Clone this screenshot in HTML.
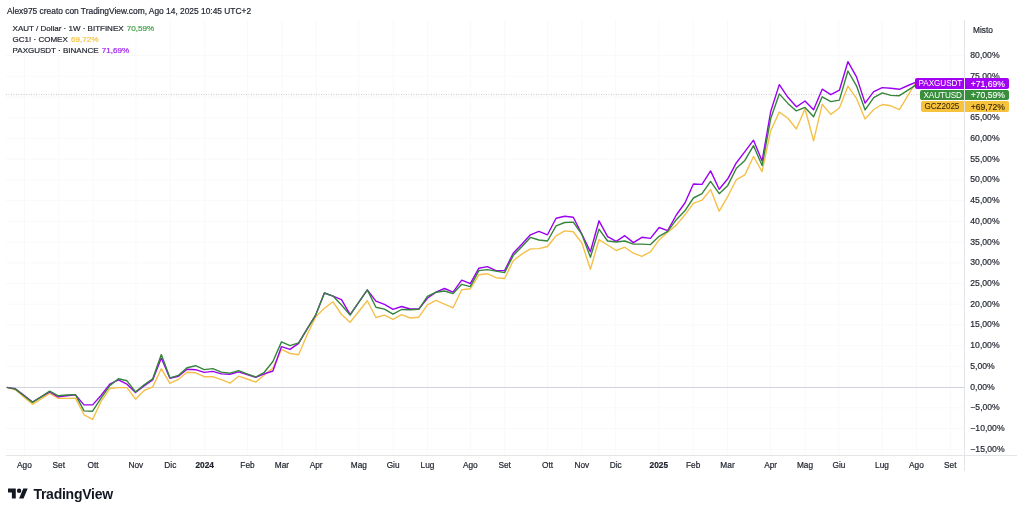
<!DOCTYPE html>
<html><head><meta charset="utf-8"><style>
html,body{margin:0;padding:0;background:#fff;width:1024px;height:514px;overflow:hidden;font-family:"Liberation Sans",sans-serif;}
.t{position:absolute;white-space:nowrap;line-height:1;-webkit-text-stroke:0.2px currentColor;}
</style></head><body>
<div style="position:relative;width:1024px;height:514px;filter:blur(0.35px)">

<svg width="1024" height="514" viewBox="0 0 1024 514" style="position:absolute;left:0;top:0">
<path d="M24.4 20V455 M58.8 20V455 M93.1 20V455 M135.9 20V455 M170.3 20V455 M204.7 20V455 M247.5 20V455 M281.9 20V455 M316.2 20V455 M358.8 20V455 M393.1 20V455 M427.5 20V455 M470.3 20V455 M504.7 20V455 M547.5 20V455 M581.9 20V455 M615.7 20V455 M658.8 20V455 M693.2 20V455 M727.5 20V455 M770.6 20V455 M805.0 20V455 M838.9 20V455 M882.0 20V455 M916.4 20V455 M950.3 20V455 M6 449.3H964 M6 428.5H964 M6 407.8H964 M6 387.1H964 M6 366.4H964 M6 345.7H964 M6 324.9H964 M6 304.2H964 M6 283.5H964 M6 262.8H964 M6 242.1H964 M6 221.3H964 M6 200.6H964 M6 179.9H964 M6 159.2H964 M6 138.5H964 M6 117.7H964 M6 97.0H964 M6 76.3H964 M6 55.6H964" stroke="#f9f9fa" stroke-width="1" fill="none"/>
<path d="M6 387.5H964" stroke="#d1d4dc" stroke-width="1" fill="none"/>
<path d="M6 94.6H964" stroke="#c8c8c8" stroke-width="1" stroke-dasharray="1 1.5" fill="none"/>
<path d="M964.5 20V471" stroke="#e4e5e8" stroke-width="1" fill="none"/>
<path d="M6 455.5H1017" stroke="#e4e5e8" stroke-width="1" fill="none"/>
<polyline points="6.8,387.4 15.4,389.8 24.0,397.1 32.5,404.3 41.1,398.9 49.7,393.4 58.3,398.3 66.9,398.4 75.5,398.1 84.0,414.8 92.6,419.4 101.2,401.2 109.8,388.5 118.4,387.6 127.0,387.6 135.5,399.2 144.1,390.5 152.7,386.9 161.3,368.7 169.9,383.4 178.5,379.3 187.0,372.3 195.6,372.8 204.2,376.7 212.8,376.6 221.4,379.7 230.0,383.2 238.5,376.2 247.1,379.0 255.7,382.1 264.3,375.0 272.9,368.0 281.5,349.4 290.0,353.5 298.6,354.7 307.2,334.5 315.8,316.7 324.4,308.3 333.0,301.8 341.5,314.5 350.1,322.3 358.7,311.5 367.3,300.7 375.9,317.5 384.5,315.1 393.0,319.3 401.6,314.7 410.2,318.0 418.8,317.2 427.4,304.8 436.0,300.4 444.5,304.2 453.1,307.8 461.7,289.7 470.3,288.8 478.9,274.8 487.4,273.7 496.0,277.7 504.6,278.5 513.2,260.7 521.8,254.1 530.4,248.9 538.9,248.6 547.5,246.5 556.1,235.8 564.7,230.9 573.3,231.8 581.9,243.0 590.4,269.3 599.0,239.7 607.6,245.0 616.2,250.5 624.8,247.2 633.4,253.2 641.9,256.3 650.5,251.9 659.1,239.9 667.7,232.1 676.3,225.1 684.9,214.8 693.4,203.3 702.0,200.2 710.6,189.6 719.2,211.2 727.8,196.3 736.4,179.7 744.9,174.9 753.5,156.5 762.1,171.6 770.7,130.7 779.3,112.1 787.9,118.2 796.4,129.0 805.0,108.8 813.6,140.8 822.2,104.3 830.8,114.4 839.4,108.0 847.9,86.2 856.5,98.4 865.1,119.1 873.7,109.5 882.3,104.5 890.8,105.8 899.4,109.7 908.0,95.3 916.6,80.9" fill="none" stroke="#f4c04a" stroke-width="1.4" stroke-linejoin="round"/>
<polyline points="6.8,387.4 15.4,388.8 24.0,395.4 32.5,402.0 41.1,396.9 49.7,391.8 58.3,396.9 66.9,395.8 75.5,394.9 84.0,404.9 92.6,404.9 101.2,395.3 109.8,384.2 118.4,379.8 127.0,384.2 135.5,392.4 144.1,385.9 152.7,379.9 161.3,358.1 169.9,378.3 178.5,376.3 187.0,369.2 195.6,369.7 204.2,372.4 212.8,371.4 221.4,373.9 230.0,374.3 238.5,371.9 247.1,374.6 255.7,377.4 264.3,373.9 272.9,371.0 281.5,346.6 290.0,349.4 298.6,343.4 307.2,328.9 315.8,314.8 324.4,293.0 333.0,296.1 341.5,299.7 350.1,314.7 358.7,302.3 367.3,289.9 375.9,301.1 384.5,304.4 393.0,309.3 401.6,306.5 410.2,309.0 418.8,309.0 427.4,298.2 436.0,292.2 444.5,288.5 453.1,292.2 461.7,280.1 470.3,283.7 478.9,268.2 487.4,266.6 496.0,270.6 504.6,270.6 513.2,253.3 521.8,244.2 530.4,234.8 538.9,231.4 547.5,234.8 556.1,218.2 564.7,216.3 573.3,217.2 581.9,234.4 590.4,251.8 599.0,220.8 607.6,236.7 616.2,241.4 624.8,235.7 633.4,242.6 641.9,237.3 650.5,238.4 659.1,227.5 667.7,230.6 676.3,215.0 684.9,203.0 693.4,184.0 702.0,184.4 710.6,170.9 719.2,189.3 727.8,178.8 736.4,162.7 744.9,151.6 753.5,140.2 762.1,161.1 770.7,111.5 779.3,84.6 787.9,97.3 796.4,106.8 805.0,101.0 813.6,109.7 822.2,89.2 830.8,94.7 839.4,90.2 847.9,61.7 856.5,76.9 865.1,103.1 873.7,91.7 882.3,87.6 890.8,88.3 899.4,89.3 908.0,85.5 916.6,81.8" fill="none" stroke="#9c00f0" stroke-width="1.4" stroke-linejoin="round"/>
<polyline points="6.8,387.4 15.4,389.1 24.0,395.8 32.5,402.4 41.1,396.8 49.7,391.2 58.3,395.8 66.9,395.0 75.5,394.6 84.0,410.9 92.6,411.2 101.2,397.8 109.8,385.6 118.4,378.8 127.0,380.8 135.5,392.0 144.1,384.9 152.7,378.8 161.3,354.6 169.9,377.8 178.5,375.3 187.0,367.7 195.6,365.7 204.2,369.6 212.8,368.6 221.4,372.2 230.0,373.1 238.5,370.6 247.1,373.9 255.7,377.0 264.3,372.3 272.9,361.5 281.5,341.9 290.0,345.7 298.6,342.9 307.2,328.9 315.8,314.8 324.4,293.0 333.0,296.1 341.5,305.0 350.1,315.1 358.7,302.3 367.3,289.9 375.9,307.2 384.5,309.1 393.0,314.2 401.6,309.5 410.2,309.8 418.8,309.3 427.4,296.4 436.0,292.2 444.5,291.0 453.1,293.6 461.7,284.3 470.3,286.7 478.9,270.6 487.4,269.6 496.0,271.1 504.6,272.6 513.2,255.6 521.8,246.7 530.4,237.4 538.9,240.0 547.5,241.0 556.1,225.8 564.7,222.5 573.3,222.1 581.9,234.4 590.4,257.2 599.0,229.1 607.6,241.0 616.2,242.0 624.8,241.0 633.4,244.1 641.9,244.1 650.5,244.6 659.1,236.3 667.7,231.4 676.3,219.7 684.9,210.8 693.4,198.0 702.0,193.7 710.6,181.4 719.2,193.7 727.8,185.4 736.4,168.3 744.9,160.4 753.5,145.7 762.1,165.5 770.7,118.6 779.3,93.9 787.9,103.4 796.4,110.9 805.0,107.4 813.6,116.7 822.2,96.8 830.8,101.6 839.4,100.1 847.9,71.0 856.5,85.8 865.1,109.9 873.7,97.6 882.3,92.9 890.8,95.4 899.4,95.7 908.0,90.2 916.6,84.7" fill="none" stroke="#35853a" stroke-width="1.4" stroke-linejoin="round"/>
<g transform="translate(8,488.5) scale(0.555)"><path d="M14 18H7V7H0V0h14v18zM28 18h-8l7.5-18h8L28 18z" fill="#131722"/><circle cx="20" cy="4" r="4" fill="#131722"/></g>
</svg>
<div class="t" style="left:7px;top:7.1px;font-size:8.4px;color:#1e222d">Alex975 creato con TradingView.com, Ago 14, 2025 10:45 UTC+2</div>
<div class="t" style="left:12.6px;top:24.5px;font-size:8.0px;color:#1e222d">XAUT / Dollar · 1W · BITFINEX<span style="color:#43a047;margin-left:3.2px;font-size:8.1px">70,59%</span></div>
<div class="t" style="left:12.6px;top:35.6px;font-size:8.0px;color:#1e222d">GC1! · COMEX<span style="color:#f7c244;margin-left:3.2px;font-size:8.1px">69,72%</span></div>
<div class="t" style="left:12.6px;top:46.7px;font-size:8.0px;color:#1e222d">PAXGUSDT · BINANCE<span style="color:#a020f0;margin-left:3.2px;font-size:8.1px">71,69%</span></div>
<div class="t" style="left:970.3px;top:444.8px;font-size:8.65px;color:#262a35">−15,00%</div>
<div class="t" style="left:970.3px;top:424.0px;font-size:8.65px;color:#262a35">−10,00%</div>
<div class="t" style="left:970.3px;top:403.3px;font-size:8.65px;color:#262a35">−5,00%</div>
<div class="t" style="left:970.3px;top:382.6px;font-size:8.65px;color:#262a35">0,00%</div>
<div class="t" style="left:970.3px;top:361.9px;font-size:8.65px;color:#262a35">5,00%</div>
<div class="t" style="left:970.3px;top:341.2px;font-size:8.65px;color:#262a35">10,00%</div>
<div class="t" style="left:970.3px;top:320.4px;font-size:8.65px;color:#262a35">15,00%</div>
<div class="t" style="left:970.3px;top:299.7px;font-size:8.65px;color:#262a35">20,00%</div>
<div class="t" style="left:970.3px;top:279.0px;font-size:8.65px;color:#262a35">25,00%</div>
<div class="t" style="left:970.3px;top:258.3px;font-size:8.65px;color:#262a35">30,00%</div>
<div class="t" style="left:970.3px;top:237.6px;font-size:8.65px;color:#262a35">35,00%</div>
<div class="t" style="left:970.3px;top:216.8px;font-size:8.65px;color:#262a35">40,00%</div>
<div class="t" style="left:970.3px;top:196.1px;font-size:8.65px;color:#262a35">45,00%</div>
<div class="t" style="left:970.3px;top:175.4px;font-size:8.65px;color:#262a35">50,00%</div>
<div class="t" style="left:970.3px;top:154.7px;font-size:8.65px;color:#262a35">55,00%</div>
<div class="t" style="left:970.3px;top:134.0px;font-size:8.65px;color:#262a35">60,00%</div>
<div class="t" style="left:970.3px;top:113.2px;font-size:8.65px;color:#262a35">65,00%</div>
<div class="t" style="left:970.3px;top:71.8px;font-size:8.65px;color:#262a35">75,00%</div>
<div class="t" style="left:970.3px;top:51.1px;font-size:8.65px;color:#262a35">80,00%</div>
<div class="t" style="left:973px;top:25.6px;font-size:8.3px;color:#1e222d">Misto</div>
<div class="t" style="left:24.4px;top:461.2px;font-size:8.3px;color:#1e222d;font-weight:normal;transform:translateX(-50%)">Ago</div>
<div class="t" style="left:58.8px;top:461.2px;font-size:8.3px;color:#1e222d;font-weight:normal;transform:translateX(-50%)">Set</div>
<div class="t" style="left:93.1px;top:461.2px;font-size:8.3px;color:#1e222d;font-weight:normal;transform:translateX(-50%)">Ott</div>
<div class="t" style="left:135.9px;top:461.2px;font-size:8.3px;color:#1e222d;font-weight:normal;transform:translateX(-50%)">Nov</div>
<div class="t" style="left:170.3px;top:461.2px;font-size:8.3px;color:#1e222d;font-weight:normal;transform:translateX(-50%)">Dic</div>
<div class="t" style="left:204.7px;top:461.2px;font-size:8.3px;color:#1e222d;font-weight:bold;transform:translateX(-50%)">2024</div>
<div class="t" style="left:247.5px;top:461.2px;font-size:8.3px;color:#1e222d;font-weight:normal;transform:translateX(-50%)">Feb</div>
<div class="t" style="left:281.9px;top:461.2px;font-size:8.3px;color:#1e222d;font-weight:normal;transform:translateX(-50%)">Mar</div>
<div class="t" style="left:316.2px;top:461.2px;font-size:8.3px;color:#1e222d;font-weight:normal;transform:translateX(-50%)">Apr</div>
<div class="t" style="left:358.8px;top:461.2px;font-size:8.3px;color:#1e222d;font-weight:normal;transform:translateX(-50%)">Mag</div>
<div class="t" style="left:393.1px;top:461.2px;font-size:8.3px;color:#1e222d;font-weight:normal;transform:translateX(-50%)">Giu</div>
<div class="t" style="left:427.5px;top:461.2px;font-size:8.3px;color:#1e222d;font-weight:normal;transform:translateX(-50%)">Lug</div>
<div class="t" style="left:470.3px;top:461.2px;font-size:8.3px;color:#1e222d;font-weight:normal;transform:translateX(-50%)">Ago</div>
<div class="t" style="left:504.7px;top:461.2px;font-size:8.3px;color:#1e222d;font-weight:normal;transform:translateX(-50%)">Set</div>
<div class="t" style="left:547.5px;top:461.2px;font-size:8.3px;color:#1e222d;font-weight:normal;transform:translateX(-50%)">Ott</div>
<div class="t" style="left:581.9px;top:461.2px;font-size:8.3px;color:#1e222d;font-weight:normal;transform:translateX(-50%)">Nov</div>
<div class="t" style="left:615.7px;top:461.2px;font-size:8.3px;color:#1e222d;font-weight:normal;transform:translateX(-50%)">Dic</div>
<div class="t" style="left:658.8px;top:461.2px;font-size:8.3px;color:#1e222d;font-weight:bold;transform:translateX(-50%)">2025</div>
<div class="t" style="left:693.2px;top:461.2px;font-size:8.3px;color:#1e222d;font-weight:normal;transform:translateX(-50%)">Feb</div>
<div class="t" style="left:727.5px;top:461.2px;font-size:8.3px;color:#1e222d;font-weight:normal;transform:translateX(-50%)">Mar</div>
<div class="t" style="left:770.6px;top:461.2px;font-size:8.3px;color:#1e222d;font-weight:normal;transform:translateX(-50%)">Apr</div>
<div class="t" style="left:805.0px;top:461.2px;font-size:8.3px;color:#1e222d;font-weight:normal;transform:translateX(-50%)">Mag</div>
<div class="t" style="left:838.9px;top:461.2px;font-size:8.3px;color:#1e222d;font-weight:normal;transform:translateX(-50%)">Giu</div>
<div class="t" style="left:882.0px;top:461.2px;font-size:8.3px;color:#1e222d;font-weight:normal;transform:translateX(-50%)">Lug</div>
<div class="t" style="left:916.4px;top:461.2px;font-size:8.3px;color:#1e222d;font-weight:normal;transform:translateX(-50%)">Ago</div>
<div class="t" style="left:950.3px;top:461.2px;font-size:8.3px;color:#1e222d;font-weight:normal;transform:translateX(-50%)">Set</div>
<div style="position:absolute;left:915.3px;top:77.9px;width:49.2px;height:10.9px;background:#a100f2;border-radius:2px 0 0 2px"></div>
<div style="position:absolute;left:964.5px;top:77.9px;width:44.0px;height:10.9px;background:#a100f2;border-radius:0 2px 2px 0"></div>
<div class="t" style="left:918.6px;top:79.8px;font-size:8.2px;letter-spacing:-0.1px;color:#fff;-webkit-text-stroke:0">PAXGUSDT</div>
<div class="t" style="left:970.7px;top:79.5px;font-size:8.6px;color:#fff;-webkit-text-stroke:0.1px #fff">+71,69%</div>
<div style="position:absolute;left:920.2px;top:89.8px;width:44.3px;height:10.5px;background:#388e3c;border-radius:2px 0 0 2px"></div>
<div style="position:absolute;left:964.5px;top:89.8px;width:44.0px;height:10.5px;background:#388e3c;border-radius:0 2px 2px 0"></div>
<div class="t" style="left:923.5px;top:91.5px;font-size:8.2px;letter-spacing:-0.1px;color:#fff;-webkit-text-stroke:0">XAUTUSD</div>
<div class="t" style="left:970.7px;top:91.2px;font-size:8.6px;color:#fff;-webkit-text-stroke:0.1px #fff">+70,59%</div>
<div style="position:absolute;left:921.2px;top:101px;width:43.3px;height:10.6px;background:#f7c23c;border-radius:2px 0 0 2px"></div>
<div style="position:absolute;left:964.5px;top:101px;width:44.0px;height:10.6px;background:#f7c23c;border-radius:0 2px 2px 0"></div>
<div class="t" style="left:924.5px;top:102.7px;font-size:8.2px;letter-spacing:-0.1px;color:#2a1e00;-webkit-text-stroke:0">GCZ2025</div>
<div class="t" style="left:970.7px;top:102.5px;font-size:8.6px;color:#2a1e00;-webkit-text-stroke:0.1px #2a1e00">+69,72%</div>
<div class="t" style="left:33.4px;top:486.8px;font-size:14px;font-weight:bold;color:#131722;letter-spacing:-0.25px;-webkit-text-stroke:0">TradingView</div>
</div></body></html>
